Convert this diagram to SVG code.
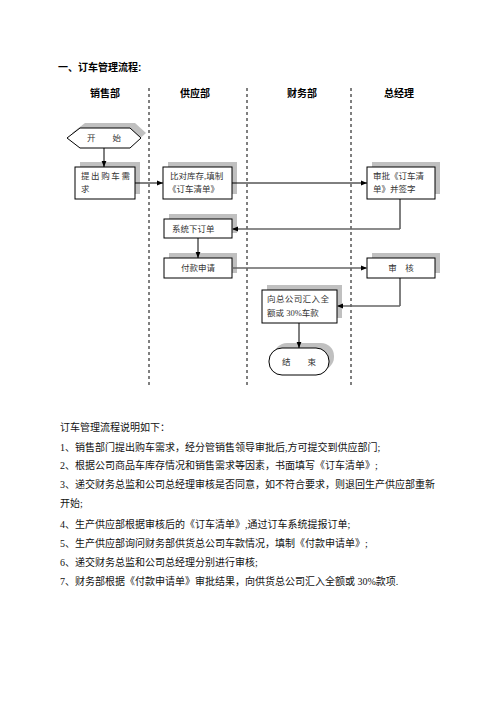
<svg xmlns="http://www.w3.org/2000/svg" width="496" height="702" viewBox="0 0 496 702">
<defs>
<style>
.t{font-family:"Liberation Serif","Noto Sans CJK SC",serif;fill:#000}
.h{font-family:"Liberation Sans","Noto Sans CJK SC",sans-serif;font-weight:bold;font-size:10px;fill:#000}
.b{font-family:"Liberation Serif","Noto Sans CJK SC",serif;font-size:8.5px;fill:#333}
.box{fill:#fff;stroke:#000;stroke-width:1}
.sh{fill:#c0c0c0;stroke:none}
.lane{stroke:#000;stroke-width:1;stroke-dasharray:3,3}
.c{fill:none;stroke:#000;stroke-width:1}
.cg{fill:none;stroke:#666;stroke-width:1.6}
.p{font-family:"Liberation Serif","Noto Sans CJK SC",serif;font-size:10px;fill:#111}
</style>
<marker id="ar" viewBox="0 0 10 10" refX="10" refY="5" markerWidth="6" markerHeight="6" orient="auto" markerUnits="userSpaceOnUse">
<path d="M0,1 L10,5 L0,9 z" fill="#000"/>
</marker>
</defs>
<rect width="496" height="702" fill="#fff"/>

<text class="h" x="58" y="71">一、订车管理流程:</text>
<g id="headers">
<text class="h" x="105" y="97" text-anchor="middle">销售部</text>
<text class="h" x="195" y="97" text-anchor="middle">供应部</text>
<text class="h" x="302" y="97" text-anchor="middle">财务部</text>
<text class="h" x="399" y="97" text-anchor="middle">总经理</text>
</g>
<g id="lanes">
<line class="lane" x1="149" y1="88" x2="149" y2="385"/>
<line class="lane" x1="247" y1="88" x2="247" y2="385"/>
<line class="lane" x1="351" y1="88" x2="351" y2="385"/>
</g>

<g id="start">
<polygon class="sh" points="72,133 85,123 135,123 146,133 135,143 85,143"/>
<polygon class="box" points="67,138 80,128 130,128 141,138 130,148 80,148"/>
<text class="b" x="104" y="141" text-anchor="middle">开　　始</text>
</g>
<g id="n1">
<rect class="sh" x="80" y="162" width="60" height="32"/>
<rect class="box" x="75" y="167" width="60" height="32"/>
<text class="b" x="81" y="179" letter-spacing="1.6">提出购车需</text>
<text class="b" x="81" y="192">求</text>
</g>
<g id="n2">
<rect class="sh" x="168" y="162" width="69" height="32"/>
<rect class="box" x="163" y="167" width="69" height="32"/>
<text class="b" x="170" y="179">比对库存,填制</text>
<text class="b" x="168" y="192">《订车清单》</text>
</g>
<g id="n3">
<rect class="sh" x="372" y="162" width="68" height="32"/>
<rect class="box" x="367" y="167" width="68" height="32"/>
<text class="b" x="373" y="179">审批《订车清</text>
<text class="b" x="373" y="192">单》并签字</text>
</g>
<g id="n4">
<rect class="sh" x="169" y="214" width="68" height="19"/>
<rect class="box" x="164" y="219" width="68" height="19"/>
<text class="b" x="172" y="232">系统下订单</text>
</g>
<g id="n5">
<rect class="sh" x="169" y="253" width="68" height="20"/>
<rect class="box" x="164" y="258" width="68" height="20"/>
<text class="b" x="198" y="271" text-anchor="middle">付款申请</text>
</g>
<g id="n6">
<rect class="sh" x="372" y="253" width="68" height="20"/>
<rect class="box" x="367" y="258" width="68" height="20"/>
<text class="b" x="401" y="271" text-anchor="middle">审　核</text>
</g>
<g id="n7">
<rect class="sh" x="267" y="285" width="75" height="33"/>
<rect class="box" x="262" y="290" width="75" height="33"/>
<text class="b" x="267" y="302" letter-spacing="0.4">向总公司汇入全</text>
<text class="b" x="267" y="316">额或 30%车款</text>
</g>
<g id="end">
<rect class="sh" x="274" y="343" width="60" height="27" rx="13"/>
<rect class="box" x="269" y="348" width="60" height="27" rx="13"/>
<text class="b" x="299" y="365" text-anchor="middle">结　　束</text>
</g>

<g id="connectors">
<line class="c" x1="104" y1="148" x2="104" y2="167" marker-end="url(#ar)"/>
<line class="c" x1="135" y1="183" x2="163" y2="183" marker-end="url(#ar)"/>
<line class="c" x1="232" y1="183" x2="367" y2="183" marker-end="url(#ar)"/>
<polyline class="c" points="400,199 400,229"/>
<polyline class="cg" points="400,229 232,229" marker-end="url(#ar)"/>
<line class="c" x1="198" y1="238" x2="198" y2="258" marker-end="url(#ar)"/>
<line class="cg" x1="232" y1="268" x2="367" y2="268" marker-end="url(#ar)"/>
<polyline class="c" points="400,278 400,306"/>
<polyline class="cg" points="400,306 337,306" marker-end="url(#ar)"/>
<line class="c" x1="299" y1="323" x2="299" y2="348" marker-end="url(#ar)"/>
</g>

<g id="notes">
<text class="p" x="60" y="431">订车管理流程说明如下：</text>
<text class="p" x="60" y="451">1、销售部门提出购车需求，经分管销售领导审批后,方可提交到供应部门;</text>
<text class="p" x="60" y="469">2、根据公司商品车库存情况和销售需求等因素，书面填写《订车清单》;</text>
<text class="p" x="60" y="488">3、递交财务总监和公司总经理审核是否同意，如不符合要求，则退回生产供应部重新</text>
<text class="p" x="60" y="507">开始;</text>
<text class="p" x="60" y="528">4、生产供应部根据审核后的《订车清单》,通过订车系统提报订单;</text>
<text class="p" x="60" y="547">5、生产供应部询问财务部供货总公司车款情况，填制《付款申请单》;</text>
<text class="p" x="60" y="566">6、递交财务总监和公司总经理分别进行审核;</text>
<text class="p" x="60" y="585">7、财务部根据《付款申请单》审批结果，向供货总公司汇入全额或 30%款项.</text>
</g>
</svg>
